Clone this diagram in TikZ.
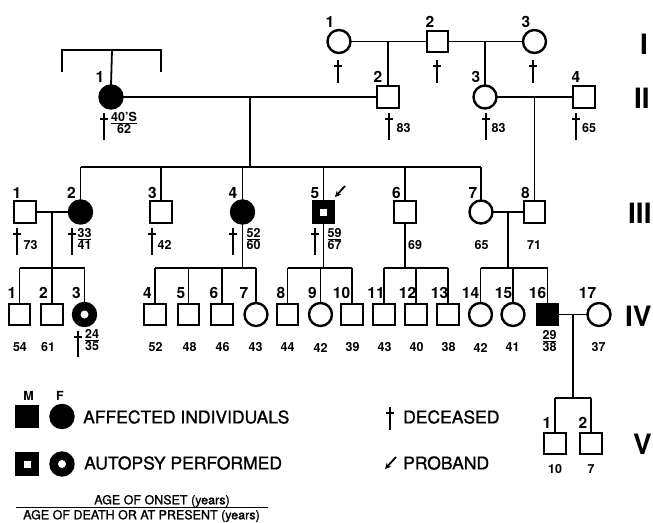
\documentclass[tikz,border=0pt]{standalone}
\usepackage{fontspec}
\setmainfont{TeX Gyre Heros}
\newfontfamily\legfont[FakeBold=1.2]{TeX Gyre Heros}
\usetikzlibrary{arrows.meta}
\newcommand\fr[2]{${\hbox{#1}\above1pt\hbox{#2}}$}
\newcommand\dgr[3]{\draw[line width=2pt] (#1,#2) -- (#1,#2+#3); \draw[line width=1.7pt] (#1-3.8,#2+6) -- (#1+3.8,#2+6);}
\tikzset{
  con/.style={line width=1.8pt},
  sym/.style={draw, line width=2.4pt, inner sep=0pt, outer sep=0pt},
  sq/.style={sym, rectangle, minimum size=21.5pt},
  ci/.style={sym, circle, minimum size=23pt},
  aff/.style={fill=black},
  autm/.style={sq, fill=black, path picture={\fill[white] (path picture bounding box.center) +(-3.5pt,-3.5pt) rectangle +(3.5pt,3.5pt);}},
  autf/.style={ci, fill=black, path picture={\fill[white] (path picture bounding box.center) circle[radius=4pt];}},
  num/.style={font=\bfseries\fontsize{15.5}{15.5}\selectfont, inner sep=0pt},
  age/.style={font=\bfseries\fontsize{12.5}{12.5}\selectfont, inner sep=0pt},
  gen/.style={font=\bfseries\fontsize{28}{28}\selectfont, inner sep=0pt, anchor=west},
  leg/.style={font=\legfont\fontsize{17.5}{17.5}\selectfont, inner sep=0pt, anchor=west},
  small/.style={font=\legfont\fontsize{12.5}{12.5}\selectfont, inner sep=0pt},
  prob/.style={line width=1.8pt, -{Stealth[length=6pt,width=6pt]}}
}
\begin{document}
\begin{tikzpicture}[x=1pt,y=-1pt]
\useasboundingbox (0,0) rectangle (653,522);
% ---------- Generation I
\node[ci] (I1) at (339,41.5) {};
\node[sq] (I2) at (437.5,41.5) {};
\node[ci] (I3) at (534.5,41.5) {};
\draw[con] (I1) -- (I2) (I2) -- (I3);
\coordinate (mI12) at (388,41.5);
\coordinate (mI23) at (485,41.5);
\node[num] (nI1) at (330,22) {1};
\node[num] (nI2) at (430,22) {2};
\node[num] (nI3) at (526,22) {3};
\dgr{338}{60}{23}
\dgr{437}{60}{23}
\dgr{533}{60}{23}
% ---------- Generation II
\node[ci,aff] (II1) at (111,97) {};
\node[sq] (II2) at (388,97) {};
\node[ci] (II3) at (485,97) {};
\node[sq] (II4) at (584,97) {};
\draw[con] (mI12) -- (II2.north) (mI23) -- (II3.north);
\draw[con] (II1) -- (II2) (II3) -- (II4);
\coordinate (bL) at (62,72);
\coordinate (bLt) at (62,50);
\coordinate (bRt) at (161,50);
\coordinate (bR) at (161,72);
\coordinate (bM) at (112,50);
\draw[con] (bL) -- (bLt) -- (bRt) -- (bR);
\draw[con] (bM) -- (II1.north);
\node[num] (nII1) at (100,77) {1};
\node[num] (nII2) at (378,77) {2};
\node[num] (nII3) at (476,77) {3};
\node[num] (nII4) at (576,77) {4};
\dgr{104}{113}{27}
\dgr{389}{113}{27}
\dgr{486}{113}{27}
\dgr{576}{113}{27}
\node[age] (aII1) at (124,123) {\fr{40'S}{62}};
\node[age] (aII2) at (403.5,128) {83};
\node[age] (aII3) at (498.5,128) {83};
\node[age] (aII4) at (589,128) {65};
\coordinate (mII12) at (250,97);
\coordinate (sIII) at (250,167);
\coordinate (mII34) at (534.5,97);
% ---------- Generation III
\node[sq] (III1) at (25,212) {};
\node[ci,aff] (III2) at (80.5,212) {};
\node[sq] (III3) at (161,212) {};
\node[ci,aff] (III4) at (242.5,212) {};
\node[autm] (III5) at (323.5,212) {};
\node[sq] (III6) at (405,212) {};
\node[ci] (III7) at (481,212) {};
\node[sq] (III8) at (534.5,212) {};
\draw[con] (mII12) -- (sIII);
\draw[con] (III2.north |- sIII) -- (III7.north |- sIII);
\foreach \n in {III2,III3,III4,III5,III6,III7}
  \draw[con] (\n.north |- sIII) -- (\n.north);
\draw[con] (mII34) -- (III8.north);
\draw[con] (III1) -- (III2) (III7) -- (III8);
\node[num] (nIII1) at (17,193) {1};
\node[num] (nIII2) at (71.5,193) {2};
\node[num] (nIII3) at (152.5,193) {3};
\node[num] (nIII4) at (233,193) {4};
\node[num] (nIII5) at (315,193) {5};
\node[num] (nIII6) at (396.5,193) {6};
\node[num] (nIII7) at (473,193) {7};
\node[num] (nIII8) at (525.5,193) {8};
\coordinate (pA) at (345,186);
\coordinate (pB) at (335,197);
\draw[prob] (pA) -- (pB);
\dgr{17}{228}{27}
\dgr{72}{228}{27}
\dgr{152}{228}{27}
\dgr{233}{228}{27}
\dgr{315}{228}{27}
\node[age] (aIII1) at (30.5,245) {73};
\node[age] (aIII2) at (84.5,239) {\fr{33}{41}};
\node[age] (aIII3) at (164.5,245) {42};
\node[age] (aIII4) at (253.5,239) {\fr{52}{60}};
\node[age] (aIII5) at (334.5,239) {\fr{59}{67}};
\node[age] (aIII6) at (415,245) {69};
\node[age] (aIII7) at (481.5,245) {65};
\node[age] (aIII8) at (534,245) {71};
% ---------- Generation IV
\node[sq] (IV1) at (19.5,314.5) {};
\node[sq] (IV2) at (52,314.5) {};
\node[autf] (IV3) at (84.5,314.5) {};
\node[sq] (IV4) at (155,314.5) {};
\node[sq] (IV5) at (188.5,314.5) {};
\node[sq] (IV6) at (222,314.5) {};
\node[ci] (IV7) at (256,314.5) {};
\node[sq] (IV8) at (287.5,314.5) {};
\node[ci] (IV9) at (320.5,314.5) {};
\node[sq] (IV10) at (352,314.5) {};
\node[sq] (IV11) at (384,314.5) {};
\node[sq] (IV12) at (416,314.5) {};
\node[sq] (IV13) at (448,314.5) {};
\node[ci] (IV14) at (480.5,314.5) {};
\node[ci] (IV15) at (513,314.5) {};
\node[sq,aff] (IV16) at (547.5,314.5) {};
\node[ci] (IV17) at (599,314.5) {};
\coordinate (mIII12) at (52,212);
\coordinate (s1) at (52,268);
\coordinate (s4) at (242.5,268);
\coordinate (s5) at (323.5,268);
\coordinate (s6) at (405,268);
\coordinate (mIII78) at (508,212);
\coordinate (s7) at (508,268);
\draw[con] (mIII12) -- (s1);
\draw[con] (III4.south) -- (s4);
\draw[con] (III5.south) -- (s5);
\draw[con] (III6.south) -- (s6);
\draw[con] (mIII78) -- (s7);
\draw[con] (IV1.north |- s1) -- (IV3.north |- s1);
\draw[con] (IV4.north |- s4) -- (IV7.north |- s4);
\draw[con] (IV8.north |- s5) -- (IV10.north |- s5);
\draw[con] (IV11.north |- s6) -- (IV13.north |- s6);
\draw[con] (IV14.north |- s7) -- (IV16.north |- s7);
\foreach \n/\s in {IV1/s1,IV2/s1,IV3/s1,IV4/s4,IV5/s4,IV6/s4,IV7/s4,IV8/s5,IV9/s5,IV10/s5,IV11/s6,IV12/s6,IV13/s6,IV14/s7,IV15/s7,IV16/s7}
  \draw[con] (\n.north |- \s) -- (\n.north);
\draw[con] (IV16) -- (IV17);
\foreach \t/\x in {1/12,2/43.5,3/76.5,4/147.5,5/181,6/214,7/244,8/281,9/312.5,10/341.5,11/376,12/407.5,13/439.5,14/470.5,15/503.5,16/537.5,17/587.5}
  \node[num] (nIV\t) at (\x,293) {\t};
\foreach \t/\x/\k in {54/20/1,61/48/2,52/155.5/4,48/189.5/5,46/222.5/6,43/255.5/7,44/287.5/8,42/320.5/9,39/352.5/10,43/384.5/11,40/416.5/12,38/448.5/13,42/480.5/14,41/512.5/15,37/598.5/17}
  \node[age] (aIV\k) at (\x,347.5) {\t};
\dgr{78}{331}{26}
\node[age] (aIV3) at (92,340) {\fr{24}{35}};
\node[age] (aIV16) at (549.5,341) {\fr{29}{38}};
% ---------- Generation V
\node[sq] (V1) at (555,443.5) {};
\node[sq] (V2) at (591,443.5) {};
\coordinate (mIV) at (573,314.5);
\coordinate (sV) at (573,398);
\draw[con] (mIV) -- (sV);
\draw[con] (V1.north |- sV) -- (V2.north |- sV);
\draw[con] (V1.north |- sV) -- (V1.north);
\draw[con] (V2.north |- sV) -- (V2.north);
\node[num] (nV1) at (547,423) {1};
\node[num] (nV2) at (583,423) {2};
\node[age] (aV1) at (555,469) {10};
\node[age] (aV2) at (591,469) {7};
% ---------- generation labels
\node[gen] (gI) at (640,44) {I};
\node[gen] (gII) at (634,98) {II};
\node[gen] (gIII) at (628,213) {III};
\node[gen] (gIV) at (625,316) {IV};
\node[gen] (gV) at (633,444) {V};
% ---------- legend
\node[font=\bfseries\fontsize{12.5}{12.5}\selectfont, inner sep=0pt] (lM) at (28.5,396) {M};
\node[font=\bfseries\fontsize{12.5}{12.5}\selectfont, inner sep=0pt] (lF) at (60,396) {F};
\node[sq,aff] (lsq) at (27,416.5) {};
\node[ci,aff] (lci) at (62,416.5) {};
\node[leg] (lAff) at (83,417) {AFFECTED INDIVIDUALS};
\node[autm] (lasq) at (27,464) {};
\node[autf] (laci) at (62,464) {};
\node[leg] (lAut) at (84,463) {AUTOPSY PERFORMED};
\dgr{390}{407}{23}
\node[leg] (lDec) at (403,417) {DECEASED};
\coordinate (lpA) at (396,457);
\coordinate (lpB) at (385,469);
\draw[prob] (lpA) -- (lpB);
\node[leg] (lPro) at (403,463) {PROBAND};
\node[small] (lOn) at (162,501) {AGE OF ONSET (years)};
\node[small] (lDe) at (141.5,516) {AGE OF DEATH OR AT PRESENT (years)};
\coordinate (rL) at (16,507.5);
\coordinate (rR) at (268,507.5);
\draw[line width=1pt] (rL) -- (rR);
\end{tikzpicture}
\end{document}
